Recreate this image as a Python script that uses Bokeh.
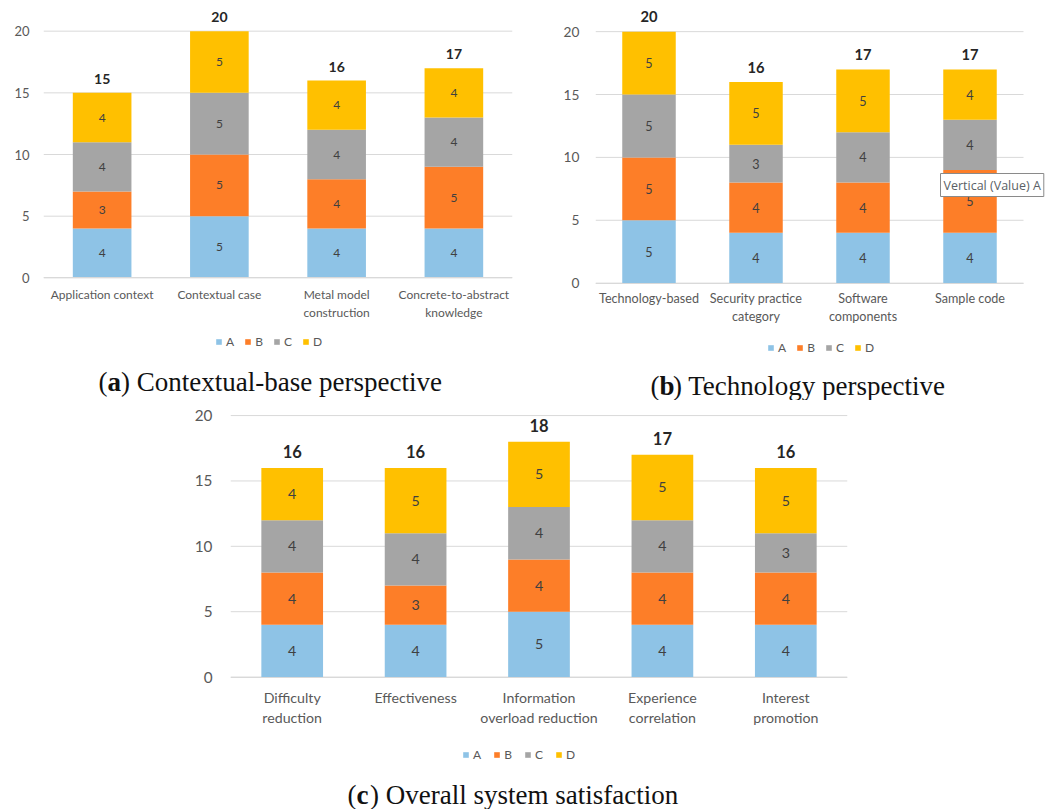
from bokeh.plotting import figure
from bokeh.models import (ColumnDataSource, FixedTicker, Legend, LegendItem, Label)
from bokeh.layouts import column, row
from bokeh.embed import file_html
from bokeh.resources import INLINE
from bokeh.core.properties import value

# ---------------- data ----------------
series = ["A", "B", "C", "D"]
colors = ["#8EC3E6", "#FD7E28", "#A5A5A5", "#FFC000"]

cats_a = ["Application context", "Contextual case", "Metal model\nconstruction", "Concrete-to-abstract\nknowledge"]
a_A = [4, 5, 4, 4]
a_B = [3, 5, 4, 5]
a_C = [4, 5, 4, 4]
a_D = [4, 5, 4, 4]

cats_b = ["Technology-based", "Security practice\ncategory", "Software\ncomponents", "Sample code"]
b_A = [5, 4, 4, 4]
b_B = [5, 4, 4, 5]
b_C = [5, 3, 4, 4]
b_D = [5, 5, 5, 4]

cats_c = ["Difficulty\nreduction", "Effectiveness", "Information\noverload reduction",
          "Experience\ncorrelation", "Interest\npromotion"]
c_A = [4, 4, 5, 4, 4]
c_B = [4, 3, 4, 4, 4]
c_C = [4, 4, 4, 4, 3]
c_D = [4, 5, 5, 5, 5]

y_ticks = [0, 5, 10, 15, 20]

FONT = "Lato"
SERIF = "Liberation Serif"
GRID = "#D9D9D9"


def panel(cats, vals, left, fw, right, top, fh, ppu, y_end, sc,
          leg_xy, leg_spacing, cap_letter, cap_text, cap_xy, ytick_standoff, xlabel_standoff,
          extra_right=0):
    n = len(cats)
    xs = list(range(n))
    data = {"x": xs}
    for s, v in zip(series, vals):
        data[s] = v
    src = ColumnDataSource(data)
    y_start = y_end - fh / ppu
    x_lo, x_hi = -0.5, n - 0.5
    px_per_cat = fw / n
    p = figure(x_range=(x_lo, x_hi + extra_right / px_per_cat), y_range=(y_start, y_end),
               frame_width=fw + extra_right, frame_height=fh,
               min_border_left=left, min_border_right=right - extra_right,
               min_border_top=top, min_border_bottom=0,
               output_backend="svg", toolbar_location=None)
    p.outline_line_color = None
    p.background_fill_color = "white"
    p.border_fill_color = "white"

    # horizontal gridlines over the category span only
    p.xgrid.grid_line_color = None
    p.ygrid.grid_line_color = None
    p.segment(x0=[x_lo] * len(y_ticks), x1=[x_hi] * len(y_ticks), y0=y_ticks, y1=y_ticks,
              line_color=GRID, line_width=1, level="underlay")

    rs = p.vbar_stack(series, x="x", width=0.5, source=src, color=colors, line_color=None)

    # segment labels
    lx, ly, lt = [], [], []
    for i in xs:
        base = 0
        for v in vals:
            lx.append(i)
            ly.append(base + v[i] / 2)
            lt.append(str(v[i]))
            base += v[i]
    p.text(x=lx, y=ly, text=lt, text_align="center", text_baseline="middle",
           text_font=value(FONT), text_font_size=f"{12*sc:.1f}px", text_color="#404040")
    totals = [sum(v[i] for v in vals) for i in xs]
    p.text(x=xs, y=totals, text=[str(t) for t in totals], text_align="center",
           text_baseline="middle", y_offset=-14 * sc, text_font=value(FONT),
           text_font_style="bold", text_font_size=f"{14*sc:.1f}px", text_color="#262626")

    # axes
    p.yaxis.ticker = FixedTicker(ticks=y_ticks)
    p.yaxis.axis_line_color = None
    p.yaxis.major_tick_line_color = None
    p.yaxis.minor_tick_line_color = None
    p.yaxis.major_label_text_font = FONT
    p.yaxis.major_label_text_font_size = f"{13*sc:.1f}px"
    p.yaxis.major_label_text_color = "#595959"
    p.yaxis.major_label_standoff = ytick_standoff
    p.xaxis.fixed_location = 0
    p.xaxis.bounds = (x_lo, x_hi)
    p.xaxis.ticker = FixedTicker(ticks=xs)
    p.xaxis.major_label_overrides = {i: c for i, c in zip(xs, cats)}
    p.xaxis.axis_line_color = GRID
    p.xaxis.major_tick_line_color = None
    p.xaxis.minor_tick_line_color = None
    p.xaxis.major_label_text_font = FONT
    p.xaxis.major_label_text_font_size = f"{12*sc:.1f}px"
    p.xaxis.major_label_text_color = "#595959"
    p.xaxis.major_label_standoff = xlabel_standoff

    # legend
    items = [LegendItem(label=s, renderers=[r]) for s, r in zip(series, rs)]
    leg = Legend(items=items, orientation="horizontal", location=leg_xy,
                 glyph_width=7, glyph_height=7, label_standoff=4,
                 spacing=leg_spacing, padding=0, margin=0, label_width=0,
                 label_height=14, label_text_font=FONT,
                 label_text_font_size="12px", label_text_color="#595959",
                 border_line_color=None, background_fill_alpha=0)
    p.add_layout(leg)

    # caption
    cx, cy = cap_xy
    fs = 27
    common = dict(y=cy, x_units="screen", y_units="screen", text_font=SERIF,
                  text_font_size=f"{fs}px", text_baseline="middle", text_color="#111111")
    p.add_layout(Label(x=cx, text="(", **common))
    p.add_layout(Label(x=cx + 0.333 * fs, text=cap_letter, text_font_style="bold", **common))
    p.add_layout(Label(x=cx + 0.333 * fs + 0.5 * fs, text=") " + cap_text, **common))
    return p


pa = panel(cats_a, [a_A, a_B, a_C, a_D], left=43, fw=469, right=28, top=6, fh=394, ppu=12.335,
           y_end=22, sc=1.0, leg_xy=(172, 51), leg_spacing=10, cap_letter="a",
           cap_text="Contextual-base perspective", cap_xy=(55, 19), ytick_standoff=8,
           xlabel_standoff=3)

pb = panel(cats_b, [b_A, b_B, b_C, b_D], left=55, fw=428, right=28, top=3, fh=397, ppu=12.575,
           y_end=22, sc=1.05, leg_xy=(172, 42), leg_spacing=10, cap_letter="b",
           cap_text="Technology perspective", cap_xy=(55, 18), ytick_standoff=10,
           xlabel_standoff=2, extra_right=28)
# chart-editor tooltip visible in the screenshot (cut at the image edge there)
pb.add_layout(Label(x=345, y=218.5, x_units="screen", y_units="screen",
                    text="Vertical (Value) A", text_font="Open Sans", text_font_size="12.5px",
                    text_color="#5A5F66", text_baseline="middle", padding=3,
                    background_fill_color="white", border_line_color="#8A8A8A"))

pc = panel(cats_c, [c_A, c_B, c_C, c_D], left=230, fw=617, right=204, top=2, fh=407, ppu=13.075,
           y_end=21, sc=1.18, leg_xy=(232, 47), leg_spacing=12, cap_letter="c",
           cap_text="Overall system satisfaction", cap_xy=(117, 15), ytick_standoff=12,
           xlabel_standoff=6)

layout = column(row(pa, pb, spacing=0), pc, spacing=0)
open("out.html", "w").write(file_html(layout, INLINE))
